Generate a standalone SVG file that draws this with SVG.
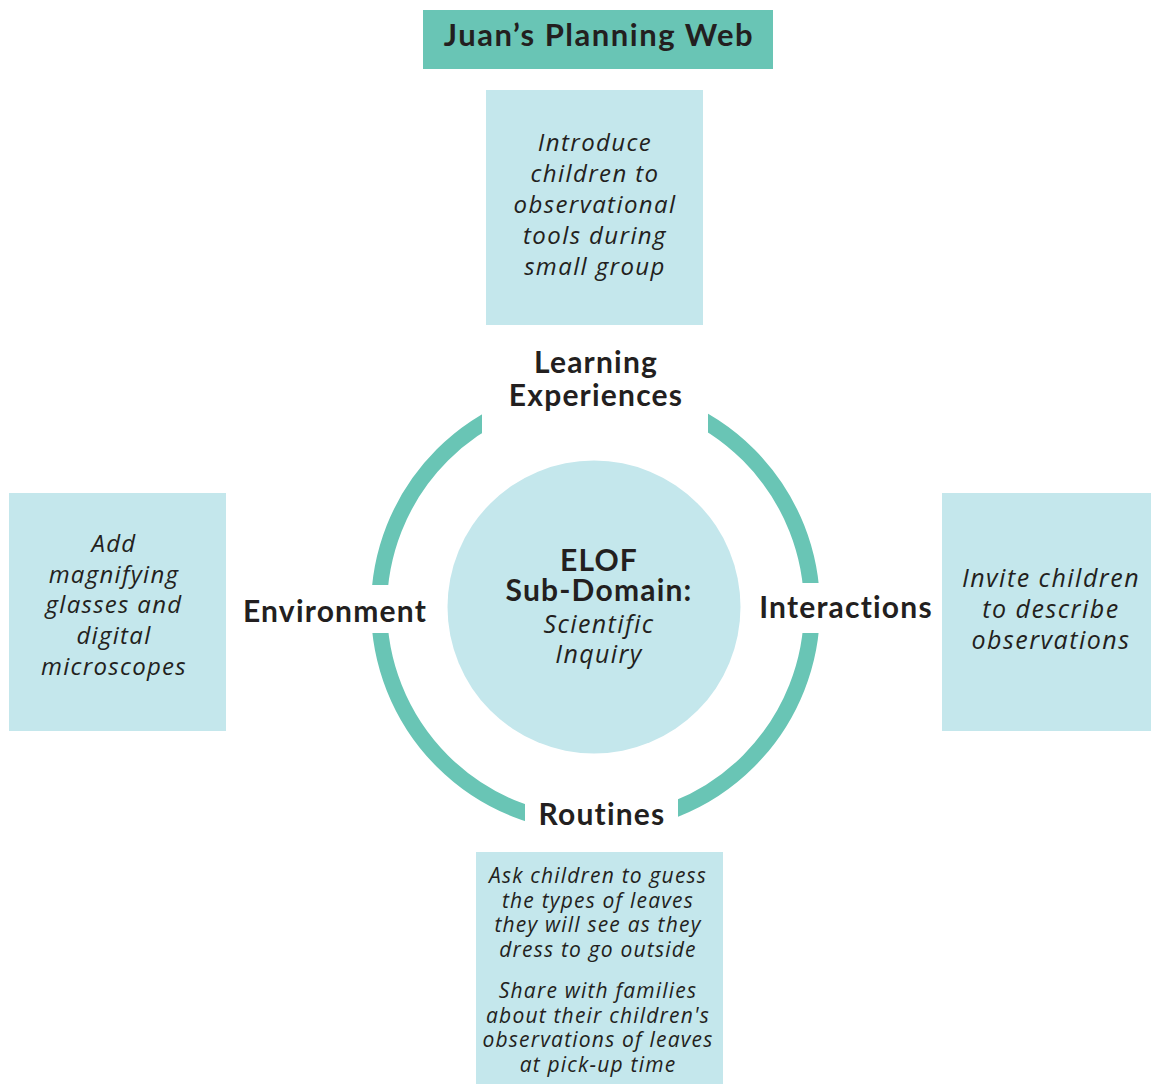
<svg xmlns="http://www.w3.org/2000/svg" width="1151" height="1084" viewBox="0 0 1151 1084">
<style>
.box{fill:#C4E7EC}
.hand{font-family:"Open Sans","DejaVu Sans",sans-serif;font-style:italic;font-weight:400;fill:#231F20;text-anchor:middle}
.lbl{font-family:Lato,"Liberation Sans",sans-serif;font-weight:700;fill:#231F20;text-anchor:middle;font-size:30px;letter-spacing:1.2px}
</style>
<defs>
<mask id="gaps">
<rect x="0" y="0" width="1151" height="1084" fill="#fff"/>
<rect x="482" y="360" width="226" height="80" fill="#000"/>
<rect x="355" y="585" width="50" height="48" fill="#000"/>
<rect x="785" y="583" width="50" height="50" fill="#000"/>
<rect x="525" y="790" width="153" height="60" fill="#000"/>
</mask>
</defs>
<rect width="1151" height="1084" fill="#fff"/>
<g id="connectors">
<circle cx="595.5" cy="608" r="216.5" fill="none" stroke="#69C5B5" stroke-width="16" mask="url(#gaps)"/>
</g>
<g id="title">
<rect x="423" y="10" width="350" height="59" fill="#69C5B5"/>
<text class="lbl" x="599" y="46" style="font-size:31px;letter-spacing:1.5px">Juan’s Planning Web</text>
</g>
<g id="center">
<circle cx="594" cy="607" r="146.5" fill="#C4E7EC"/>
<text class="lbl" x="599" y="571">ELOF</text>
<text class="lbl" x="599" y="601">Sub-Domain:</text>
<text class="hand" x="599" y="633" font-size="25" letter-spacing="1.4">Scientific</text>
<text class="hand" x="599" y="663" font-size="25" letter-spacing="1.4">Inquiry</text>
</g>
<g id="learning-experiences">
<text class="lbl" x="596" y="373">Learning</text>
<text class="lbl" x="596" y="406">Experiences</text>
</g>
<g id="environment">
<text class="lbl" x="335" y="622">Environment</text>
</g>
<g id="interactions">
<text class="lbl" x="846" y="618">Interactions</text>
</g>
<g id="routines">
<text class="lbl" x="602" y="825">Routines</text>
</g>
<g id="box-learning">
<rect class="box" x="486" y="90" width="217" height="235"/>
<text class="hand" font-size="24" letter-spacing="1.4"><tspan x="595" y="151">Introduce</tspan><tspan x="595" y="182">children to</tspan><tspan x="595" y="213">observational</tspan><tspan x="595" y="244">tools during</tspan><tspan x="595" y="275">small group</tspan></text>
</g>
<g id="box-environment">
<rect class="box" x="9" y="493" width="217" height="238"/>
<text class="hand" font-size="24" letter-spacing="1.3"><tspan x="114" y="552">Add</tspan><tspan x="114" y="583">magnifying</tspan><tspan x="114" y="613">glasses and</tspan><tspan x="114" y="644">digital</tspan><tspan x="114" y="675">microscopes</tspan></text>
</g>
<g id="box-interactions">
<rect class="box" x="942" y="493" width="209" height="238"/>
<text class="hand" font-size="25" letter-spacing="1.5"><tspan x="1051" y="587">Invite children</tspan><tspan x="1051" y="618">to describe</tspan><tspan x="1051" y="649">observations</tspan></text>
</g>
<g id="box-routines">
<rect class="box" x="476" y="852" width="247" height="232"/>
<text class="hand" font-size="21" letter-spacing="1.2"><tspan x="598" y="883">Ask children to guess</tspan><tspan x="598" y="908">the types of leaves</tspan><tspan x="598" y="932">they will see as they</tspan><tspan x="598" y="957">dress to go outside</tspan><tspan x="598" y="998">Share with families</tspan><tspan x="598" y="1023">about their children's</tspan><tspan x="598" y="1047">observations of leaves</tspan><tspan x="598" y="1072">at pick-up time</tspan></text>
</g>
</svg>
